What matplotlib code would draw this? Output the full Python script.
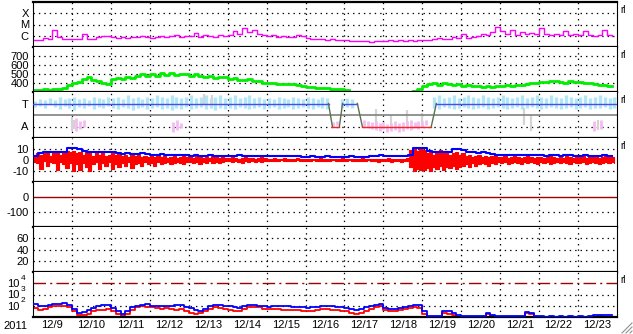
import numpy as np
import matplotlib
matplotlib.use("Agg")
import matplotlib.pyplot as plt
from matplotlib.lines import Line2D

nan = float("nan")
plt.rcParams['font.family'] = ['Liberation Sans', 'DejaVu Sans']
plt.rcParams['lines.scale_dashes'] = False

# ---------------- data (time in days since 2011-12-09 00:00) ----------------
date_labels = ["12/9", "12/10", "12/11", "12/12", "12/13", "12/14", "12/15", "12/16",
               "12/17", "12/18", "12/19", "12/20", "12/21", "12/22", "12/23"]
year_label = "2011"

# X-ray flux (log10 W/m2), 3-hour steps
xray_log = [
    -6.4, -6.35, -6.2, -6.3, -5.5, -6.1, -6.25, -6.3,
    -6.3, -6.3, -5.8, -6.25, -6.3, -6.15, -6.0, -6.05,
    -6.1, -6.2, -6.15, -6.2, -6.1, -6.15, -6.0, -6.1,
    -6.2, -6.1, -6.0, -6.15, -6.05, -5.9, -6.1, -6.0,
    -6.0, -5.75, -6.1, -5.9, -6.05, -6.1, -5.95, -6.0,
    -5.9, -5.6, -5.8, -5.3, -5.7, -5.5, -5.8, -5.9,
    -6.0, -5.9, -6.1, -6.0, -6.15, -6.1, -5.9, -6.0,
    -6.2, -6.3, -6.25, -6.3, -6.35, -6.3, -6.4, -6.35,
    -6.4, -6.5, -6.45, -6.5, -6.5, -6.55, -6.5, -6.45,
    -6.45, -6.4, -6.45, -6.4, -6.5, -6.4, -6.45, -6.4,
    -6.4, -6.35, -6.3, -6.2, -6.25, -6.3, -6.15, -6.2,
    -5.85, -6.2, -6.1, -6.0, -5.8, -5.9, -5.7, -5.2,
    -5.6, -5.85, -5.5, -5.9, -5.7, -5.8, -5.75, -5.85,
    -5.3, -5.8, -5.9, -5.85, -5.95, -5.6, -5.9, -5.85,
    -5.9, -5.6, -5.95, -6.0, -5.9, -5.5, -5.95, -6.05]

# Solar wind speed (km/s), 3-hour steps
speed = [
    325, 318, 332, 320, 338, 330, 345, 375,
    398, 415, 445, 470, 438, 425, 398, 385,
    440, 458, 445, 470, 455, 480, 500, 475,
    505, 480, 512, 490, 515, 488, 505, 498,
    480, 500, 475, 468, 482, 460, 468, 472,
    440, 455, 435, 432, 440, 420, 418, 405,
    395, 402, 388, 388, 392, 385, 382, 372,
    358, 352, 345, 342, 340, 335, 330, 328,
    322, nan, nan, nan, nan, nan, nan, nan,
    nan, nan, nan, nan, nan, nan, 312, 332,
    368, 385, 398, 380, 395, 388, 378, 390,
    372, 382, 368, 365, 360, 370, 358, 366,
    370, 375, 365, 378, 382, 388, 395, 402,
    408, 412, 418, 422, 410, 405, 418, 415,
    410, 402, 395, 385, 382, 375, 372, 370]

# Data-status trace (T = 3, A = 1)
status_t = [0.0, 7.59, 7.69, 7.87, 7.95, 8.33, 8.46, 10.23, 10.36, 15.0]
status_v = [3, 3, 1, 1, 3, 3, 1, 1, 3, 3]

# light-blue / gray / pink scatter ranges (panel units 0-4), 3-hour steps
cyan_lo = [
    2.7, 2.8, 2.6, 2.9, 2.7, 2.5, 2.8, 2.6,
    2.4, 2.7, 2.6, 2.8, 2.5, 2.7, 2.6, 2.8,
    2.6, 2.5, 2.7, 2.6, 2.4, 2.6, 2.7, 2.5,
    2.6, 2.7, 2.5, 2.6, 2.4, 2.6, 2.5, 2.7,
    2.5, 2.6, 2.7, 2.5, 2.6, 2.4, 2.6, 2.5,
    2.6, 2.5, 2.7, 2.6, 2.5, 2.6, 2.7, 2.5,
    2.6, 2.7, 2.5, 2.6, 2.7, 2.5, 2.6, 2.7,
    2.6, 2.5, 2.7, 2.6, 2.5, nan, nan, 2.6,
    2.7, 2.6, nan, nan, nan, nan, nan, nan,
    nan, nan, nan, nan, nan, nan, nan, nan,
    nan, nan, 2.6, 2.5, 2.7, 2.6, 2.5, 2.6,
    2.7, 2.6, 2.5, 2.6, 2.7, 2.5, 2.6, 2.7,
    2.6, 2.5, 2.6, 2.7, 2.5, 2.6, 2.7, 2.6,
    2.5, 2.6, 2.7, 2.6, 2.5, 2.6, 2.7, 2.5,
    2.6, 2.7, 2.5, 2.6, 2.6, 2.7, 2.5, 2.6]
cyan_hi = [
    3.2, 3.4, 3.3, 3.5, 3.3, 3.6, 3.4, 3.5,
    3.6, 3.4, 3.5, 3.3, 3.6, 3.5, 3.4, 3.6,
    3.5, 3.6, 3.4, 3.7, 3.5, 3.6, 3.4, 3.6,
    3.5, 3.7, 3.6, 3.5, 3.7, 3.6, 3.5, 3.6,
    3.7, 3.5, 3.6, 3.7, 3.5, 3.6, 3.7, 3.5,
    3.6, 3.7, 3.5, 3.6, 3.7, 3.5, 3.6, 3.4,
    3.5, 3.4, 3.6, 3.5, 3.4, 3.6, 3.5, 3.4,
    3.6, 3.5, 3.4, 3.6, 3.5, nan, nan, 3.4,
    3.5, 3.4, nan, nan, nan, nan, nan, nan,
    nan, nan, nan, nan, nan, nan, nan, nan,
    nan, nan, 3.6, 3.7, 3.5, 3.6, 3.7, 3.5,
    3.6, 3.7, 3.6, 3.5, 3.7, 3.6, 3.5, 3.6,
    3.7, 3.6, 3.5, 3.6, 3.7, 3.5, 3.6, 3.7,
    3.6, 3.5, 3.7, 3.6, 3.5, 3.7, 3.6, 3.5,
    3.6, 3.7, 3.5, 3.6, 3.7, 3.6, 3.5, 3.6]
pink_t = [1.1, 1.2, 1.3, 3.6, 3.7, 3.8, 7.7, 7.8,
          8.5, 8.6, 8.7, 8.8, 8.9, 9.0, 9.1, 9.2, 9.3, 9.4, 9.5, 9.6, 9.7, 9.8, 9.9, 10.0, 10.1,
          14.4, 14.6]
pink_lo = [0.6, 0.8, 1.0, 0.5, 0.7, 0.9, 1.0, 1.1,
           1.0, 0.9, 0.8, 0.7, 0.6, 0.8, 0.5, 0.6, 0.7, 0.5, 0.6, 0.8, 0.7, 0.9, 0.8, 1.0, 1.1,
           0.6, 0.8]
pink_hi = [1.7, 1.5, 1.6, 1.4, 1.6, 1.3, 1.4, 1.5,
           1.6, 1.5, 1.4, 1.5, 1.3, 1.4, 1.2, 1.3, 1.5, 1.3, 1.4, 1.5, 1.6, 1.4, 1.5, 1.4, 1.6,
           1.5, 1.6]
gray_t = [1.0, 1.05, 4.4, 4.6, 8.8, 9.2, 9.6, 10.0, 12.6, 12.8, 14.5]
gray_lo = [0.6, 0.8, 2.9, 3.0, 1.0, 0.7, 1.2, 0.9, 1.1, 0.6, 0.7]
gray_hi = [1.8, 1.6, 3.8, 3.7, 2.5, 2.0, 2.4, 2.2, 2.6, 2.0, 1.6]

# IMF Bt (nT), 3-hour steps
bt = [
    3.5, 6.5, 7, 7, 7.5, 7, 7.5, 10.5,
    10.5, 10, 8.5, 7.5, 7.5, 7, 7.5, 7,
    7.5, 6, 5.5, 6, 5.5, 5.5, 6, 5.5,
    5, 5, 5.5, 5, 4.5, 5, 4.5, 4.5,
    4, 4.5, 4, 4, 4.5, 4, 4, 4,
    4, 4, 4.5, 4, 3.5, 4, 4, 3.5,
    3.5, 4, 3.5, 3.5, 4, 3.5, 3.5, 3,
    3, 3.5, 3, 3, 3.5, 3, 3, 3,
    3, 3.5, 3, 3, 3, 3.5, 4, 4.5,
    3.5, 4, 3.5, 4, 4, 5, 10.5, 11,
    11, 8, 7, 7, 7.5, 7, 10, 10,
    9.5, 7, 7, 6.5, 7, 6, 5.5, 5,
    5, 4.5, 5, 4.5, 4.5, 5, 4.5, 4.5,
    4.5, 4, 4.5, 4.5, 4, 4.5, 4.5, 4,
    4, 4.5, 4, 3.5, 4, 4.5, 4, 3.5]

# IMF Bz range (nT) per 2-hour bin
bz_hi = [
    3, 6, 5, 8, 6, 4, 7, 8, 5, 6, 8, 7,
    8, 6, 7, 5, 8, 6, 4, 7, 5, 6, 4, 5,
    7, 5, 6, 4, 5, 3, 6, 4, 5, 3, 4, 3,
    4, 3, 5, 3, 4, 2, 3, 4, 2, 3, 4, 3,
    3, 2, 4, 3, 2, 3, 2, 4, 3, 2, 3, 2,
    2, 3, 2, 1, 2, 3, 2, 2, 1, 2, 3, 2,
    1, 1, 2, 1, 1, 2, 1, 1, 1, 2, 1, 1,
    1, 1, 1, 1, 2, 1, 1, 1, 1, 1, 1, 2,
    1, 1, 1, 1, 1, 2, 1, 1, 1, 1, 1, 1,
    1, 2, 1, 1, 1, 1, 1, 2, 9, 11, 8, 10,
    9, 6, 8, 5, 7, 9, 6, 8, 5, 6, 7, 5,
    6, 4, 5, 3, 4, 5, 3, 4, 3, 4, 5, 3,
    3, 4, 2, 3, 4, 3, 2, 3, 4, 3, 2, 3,
    3, 2, 3, 4, 3, 2, 3, 2, 4, 3, 2, 3,
    3, 4, 2, 3, 4, 3, 2, 3, 4, 3, 3, 2]
bz_lo = [
    -2, -3, -8, -1, -5, -2, -3, -9, -2, -4, -7, -3,
    -10, -4, -9, -3, -6, -10, -4, -2, -8, -3, -5, -2,
    -8, -4, -6, -3, -5, -2, -7, -4, -3, -5, -2, -4,
    -3, -5, -2, -4, -3, -2, -4, -3, -2, -3, -4, -2,
    -2, -3, -2, -4, -2, -3, -1, -3, -2, -3, -2, -1,
    -1, -2, -1, -2, -3, -1, -2, -1, -2, -1, -2, -1,
    -1, -1, -1, -1, 0, -1, -1, -1, -1, 0, -1, -1,
    -1, -1, 0, -1, -1, -1, -1, -1, 0, -1, -1, -1,
    -1, 0, -1, -1, -1, -1, -1, 0, -1, -1, -2, -1,
    -1, -1, -2, -1, -1, -2, -1, -1, -6, -10, -8, -9,
    -9, -7, -10, -6, -8, -5, -9, -6, -7, -5, -8, -6,
    -5, -4, -6, -3, -5, -4, -3, -4, -5, -3, -4, -2,
    -3, -2, -4, -3, -2, -3, -4, -2, -3, -2, -3, -4,
    -2, -3, -2, -4, -3, -2, -3, -2, -3, -4, -2, -3,
    -3, -2, -4, -3, -2, -3, -4, -3, -2, -3, -2, -3]

dst_ref = 0
eflux_threshold = 1e4

# Electron flux (log10), 3-hour steps
eflux_blue = [
    2.15, 1.95, 2.0, 2.1, 2.2, 2.2, 2.25, 2.1,
    1.75, 1.4, 1.45, 1.65, 1.8, 1.95, 2.05, 2.1,
    1.8, 1.5, 1.25, 1.55, 1.85, 2.0, 2.1, 2.15,
    2.0, 1.95, 1.95, 2.0, 1.95, 2.05, 2.05, 1.85,
    1.8, 1.6, 1.5, 1.75, 1.95, 2.05, 2.1, 2.0,
    1.95, 1.85, 1.8, 1.95, 2.05, 2.1, 2.0, 1.95,
    1.9, 1.95, 2.0, 1.95, 1.95, 1.9, 1.9, 1.85,
    1.8, 1.85, 1.9, 2.0, 2.0, 1.95, 1.9, 1.85,
    1.8, 1.7, 1.6, 1.7, 1.85, 1.95, 2.05, 2.15,
    1.8, 1.75, 1.7, 1.8, 1.9, 2.0, 2.05, 2.05,
    1.5, 1.1, 1.05, 1.1, 1.5, 1.5, 1.4, 1.15,
    1.1, 1.1, 1.05, 1.1, 1.1, 1.35, 1.2, 1.1,
    1.1, 1.05, 1.1, 1.1, 1.05, 1.45, 1.4, 1.1,
    1.05, 1.0, 1.05, 1.0, 1.05, 1.0, 1.05, 1.0,
    1.05, 1.0, 1.05, 1.15, 1.2, 1.15, 1.2, 1.15]
eflux_red = [
    1.8, 1.65, 1.75, 1.9, 1.95, 1.95, 2.0, 1.85,
    1.5, 1.2, 1.15, 1.3, 1.5, 1.6, 1.65, 1.7,
    1.55, 1.25, 1.05, 1.3, 1.6, 1.85, 1.95, 1.9,
    1.85, 1.8, 1.75, 1.8, 1.7, 1.6, 1.7, 1.5,
    1.4, 1.3, 1.35, 1.5, 1.75, 1.85, 1.8, 1.7,
    1.6, 1.5, 1.55, 1.7, 1.85, 1.9, 1.85, 1.75,
    1.7, 1.75, 1.7, 1.65, 1.65, 1.6, 1.6, 1.55,
    1.5, 1.55, 1.6, 1.7, 1.7, 1.65, 1.6, 1.55,
    1.5, 1.4, 1.3, 1.4, 1.55, 1.7, 1.85, 1.95,
    1.6, 1.55, 1.5, 1.6, 1.7, 1.8, 1.85, 1.8,
    1.3, 0.95, 0.9, 0.95, 1.35, 1.3, 1.2, 0.95,
    0.9, 0.9, 0.9, 0.95, 1.0, 1.3, 1.1, 0.9,
    0.9, 0.9, 0.9, 0.95, 0.9, 1.4, 1.3, 0.95,
    0.9, 0.9, 0.9, 0.9, 0.9, 0.9, 0.9, 0.9,
    0.9, 0.9, 0.9, 1.0, 1.05, 0.95, 1.0, 0.95]

# ---------------- figure ----------------
W, H = 633, 334
fig = plt.figure(figsize=(W / 100, H / 100), dpi=100)
FS = 8
L, R = 33, 617
bounds = [(2, 47), (47, 92), (92, 138), (138, 182), (182, 227), (227, 272), (272, 317)]
axes = []
for (t, b) in bounds:
    ax = fig.add_axes([L / W, 1 - b / H, (R - L) / W, (b - t) / H])
    ax.set_xlim(0, 15)
    for s in ax.spines.values():
        s.set_color('black')
        s.set_linewidth(0.8)
    ax.spines['bottom'].set_linewidth(1.6)
    ax.spines['top'].set_visible(False)
    ax.tick_params(axis='both', length=0, pad=3, labelsize=FS)
    ax.set_xticks([])
    axes.append(ax)
axes[0].spines['top'].set_visible(True)
axes[0].spines['top'].set_linewidth(1.6)

dot = (0, (1.0, 2.9))


def grid(ax, ys):
    for d in range(1, 15):
        ax.axvline(d, color='black', lw=0.9, ls=dot, zorder=0.5)
    for y in ys:
        ax.axhline(y, color='black', lw=0.9, ls=dot, zorder=0.5)


t3 = np.arange(len(speed)) / 8.0
t2 = np.arange(len(bz_hi)) / 12.0

# Panel 1: X-ray
ax = axes[0]
ax.set_yscale('log')
ax.set_ylim(1e-7, 1e-3)
ax.set_yticks([1e-4, 1e-5, 1e-6], ['X', 'M', 'C'])
ax.minorticks_off()
grid(ax, [1e-4, 1e-5, 1e-6])
ax.step(t3, 10 ** np.array(xray_log), where='post', color='#ff00ff', lw=1.0)

# Panel 2: solar wind speed
ax = axes[1]
ax.set_ylim(300, 800)
ax.set_yticks([700, 600, 500, 400], ['700', '600', '500', '400'])
grid(ax, [700, 600, 500, 400])
ax.step(t3, speed, where='post', color='#00ee00', lw=2.0)

# Panel 3: T / A
ax = axes[2]
ax.set_ylim(0, 4)
ax.set_yticks([3, 1], ['T', 'A'])
grid(ax, [1])
ax.vlines(t3 + 0.06, cyan_lo, cyan_hi, color='#b0e6f6', lw=2.4, zorder=1)
ax.vlines(gray_t, gray_lo, gray_hi, color='#d4d4d4', lw=1.6, zorder=1.1)
ax.vlines(pink_t, pink_lo, pink_hi, color='#f4bcf0', lw=2.0, zorder=1.1)
ax.axhline(2, color='#808080', lw=1.2, zorder=2)
for i in range(len(status_t) - 1):
    v0, v1 = status_v[i], status_v[i + 1]
    if v0 == v1:
        c = '#4a4af0' if v0 == 3 else '#ff2020'
    else:
        c = '#5a7050'
    ax.plot(status_t[i:i + 2], status_v[i:i + 2], color=c, lw=1.0, zorder=3)

# Panel 4: IMF
ax = axes[3]
ax.set_ylim(-20, 20)
ax.set_yticks([10, 0, -10], ['10', '0', '-10'])
grid(ax, [10, 0, -10])
ax.fill_between(t2, bz_lo, bz_hi, step='post', color='#ff0000', lw=0.8, zorder=2)
ax.step(t3, bt, where='post', color='#0000ff', lw=1.5, zorder=3)

# Panel 5: Dst
ax = axes[4]
ax.set_ylim(-200, 100)
ax.set_yticks([0, -100], ['0', '-100'])
grid(ax, [-100])
ax.axhline(dst_ref, color='#a00000', lw=1.0)

# Panel 6
ax = axes[5]
ax.set_ylim(0, 80)
ax.set_yticks([60, 40, 20], ['60', '40', '20'])
grid(ax, [60, 40, 20])

# Panel 7: electron flux
ax = axes[6]
ax.set_yscale('log')
ax.set_ylim(10, 1e5)
ax.set_yticks([1e4, 1e3, 1e2], ['10', '10', '10'])
ax.tick_params(axis='y', pad=10)
ax.minorticks_off()
for e in [4, 3, 2]:
    ax.annotate(str(e), xy=(0, 10 ** e), xycoords=('axes fraction', 'data'),
                xytext=(-9, 3.5), textcoords='offset points', fontsize=6,
                ha='left', va='center')
grid(ax, [1e3, 1e2])
ax.axhline(eflux_threshold, color='#a00000', lw=1.0, ls=(0, (9, 3, 1.5, 3)))
ax.step(t3, 10 ** np.array(eflux_red), where='post', color='#ff0000', lw=1.3, zorder=2)
ax.step(t3, 10 ** np.array(eflux_blue), where='post', color='#0000ff', lw=1.3, zorder=3)
ax.set_xticks(np.arange(15) + 0.5, date_labels)
ax.tick_params(axis='x', length=0, pad=2, labelsize=FS)

fig.text(15 / W, 1 - 326 / H, year_label, ha='center', va='center', fontsize=FS)
for y in [10, 55, 100, 146, 280]:
    fig.text(620 / W, 1 - y / H, 'rl', ha='left', va='center', fontsize=7)
for k in range(3):
    off = 4 * k
    fig.add_artist(Line2D([(622 + off) / W, (632) / W], [1 - 333 / H, 1 - (323 + off) / H],
                          color='#909090', lw=0.8))

fig.savefig('out.png', dpi=100)
